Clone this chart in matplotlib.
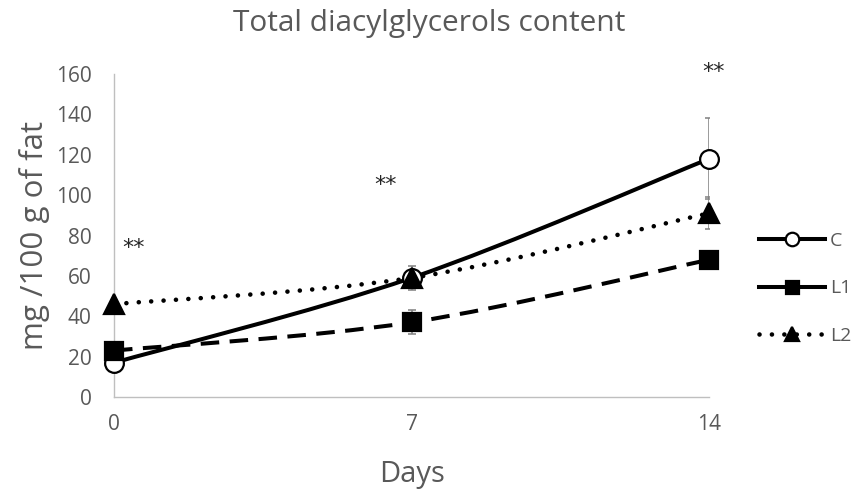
import numpy as np
import matplotlib.pyplot as plt
from matplotlib.path import Path
from matplotlib.patches import PathPatch
from matplotlib.lines import Line2D

plt.rcParams['font.family'] = ['Open Sans', 'DejaVu Sans']

# data
days = [0, 7, 14]
c_vals = [17, 59, 118]
c_err = [0, 6, 20]
l1_vals = [23, 37, 68]
l1_err = [0, 6, 0]
l2_vals = [46, 59, 91]
l2_err = [0, 3, 8]
stars = [(0.45, 74), (6.4, 105), (14.1, 161)]

grey = '#595959'


def smooth_path(x, y):
    # Excel style smoothed line: cubic bezier through the points
    pts = np.column_stack([x, y]).astype(float)
    ext = np.vstack([pts[0], pts, pts[-1]])
    verts = [pts[0]]
    codes = [Path.MOVETO]
    for i in range(1, len(ext) - 2):
        p0, p1, p2, p3 = ext[i - 1], ext[i], ext[i + 1], ext[i + 2]
        verts += [p1 + (p2 - p0) / 6, p2 - (p3 - p1) / 6, p2]
        codes += [Path.CURVE4] * 3
    return Path(verts, codes)


fig = plt.figure(figsize=(8.59, 4.99), dpi=100)
ax = fig.add_axes([0.1327, 0.2044, 0.6927, 0.6473])

styles = {
    'C': dict(ls='-', leg_ls='-', lw=2.9, marker='o', mfc='white', ms=13.5, cap='butt'),
    'L1': dict(ls=(0, (4.6, 2.6)), leg_ls='-', lw=2.9, marker='s', mfc='black', ms=13,
               cap='butt'),
    'L2': dict(ls=(0, (0.01, 2.7)), leg_ls=(0, (0.01, 2.7)), lw=3.3, marker='^',
               mfc='black', ms=14, cap='round'),
}
series = [('C', c_vals, c_err), ('L1', l1_vals, l1_err), ('L2', l2_vals, l2_err)]

handles = []
for name, vals, err in series:
    st = styles[name]
    ax.errorbar(days, vals, yerr=err, fmt='none', ecolor='#808080', elinewidth=1.1,
                capsize=3, capthick=1.1, zorder=2)
    patch = PathPatch(smooth_path(days, vals), fill=False, edgecolor='black',
                      lw=st['lw'], linestyle=st['ls'], capstyle=st['cap'], zorder=3)
    ax.add_patch(patch)
    ax.plot(days, vals, ls='none', marker=st['marker'], ms=st['ms'], mfc=st['mfc'],
            mec='black', mew=1.6, zorder=4, clip_on=False)
    h = Line2D([], [], color='black', lw=st['lw'], ls=st['leg_ls'], marker=st['marker'],
               ms=st['ms'], mfc=st['mfc'], mec='black', mew=1.6,
               dash_capstyle=st['cap'])
    handles.append(h)

for sx, sy in stars:
    ax.text(sx, sy, '**', ha='center', va='center', fontsize=16, color='#262626',
            family='DejaVu Sans')

ax.set_xlim(0, 14)
ax.set_ylim(0, 160)
ax.set_xticks(days)
ax.set_yticks(range(0, 161, 20))
ax.tick_params(length=0, labelsize=15, colors=grey)
ax.tick_params(axis='y', pad=16)
ax.tick_params(axis='x', pad=12)
for s in ['top', 'right']:
    ax.spines[s].set_visible(False)
for s in ['left', 'bottom']:
    ax.spines[s].set_color('#bfbfbf')
    ax.spines[s].set_linewidth(1)

ax.set_xlabel('Days', fontsize=21, color=grey, labelpad=18)
ax.set_ylabel('mg /100 g of fat', fontsize=22.5, color=grey, labelpad=4)
fig.text(0.5, 0.952, 'Total diacylglycerols content', ha='center', va='center',
         fontsize=21.5, color=grey)

fig.legend(handles, ['C', 'L1', 'L2'], loc='center left', bbox_to_anchor=(0.863, 0.422),
           frameon=False, fontsize=14, handlelength=3.4, labelspacing=1.5,
           handletextpad=0.25, labelcolor=grey, markerscale=0.72)

fig.savefig('out.png', dpi=100)
